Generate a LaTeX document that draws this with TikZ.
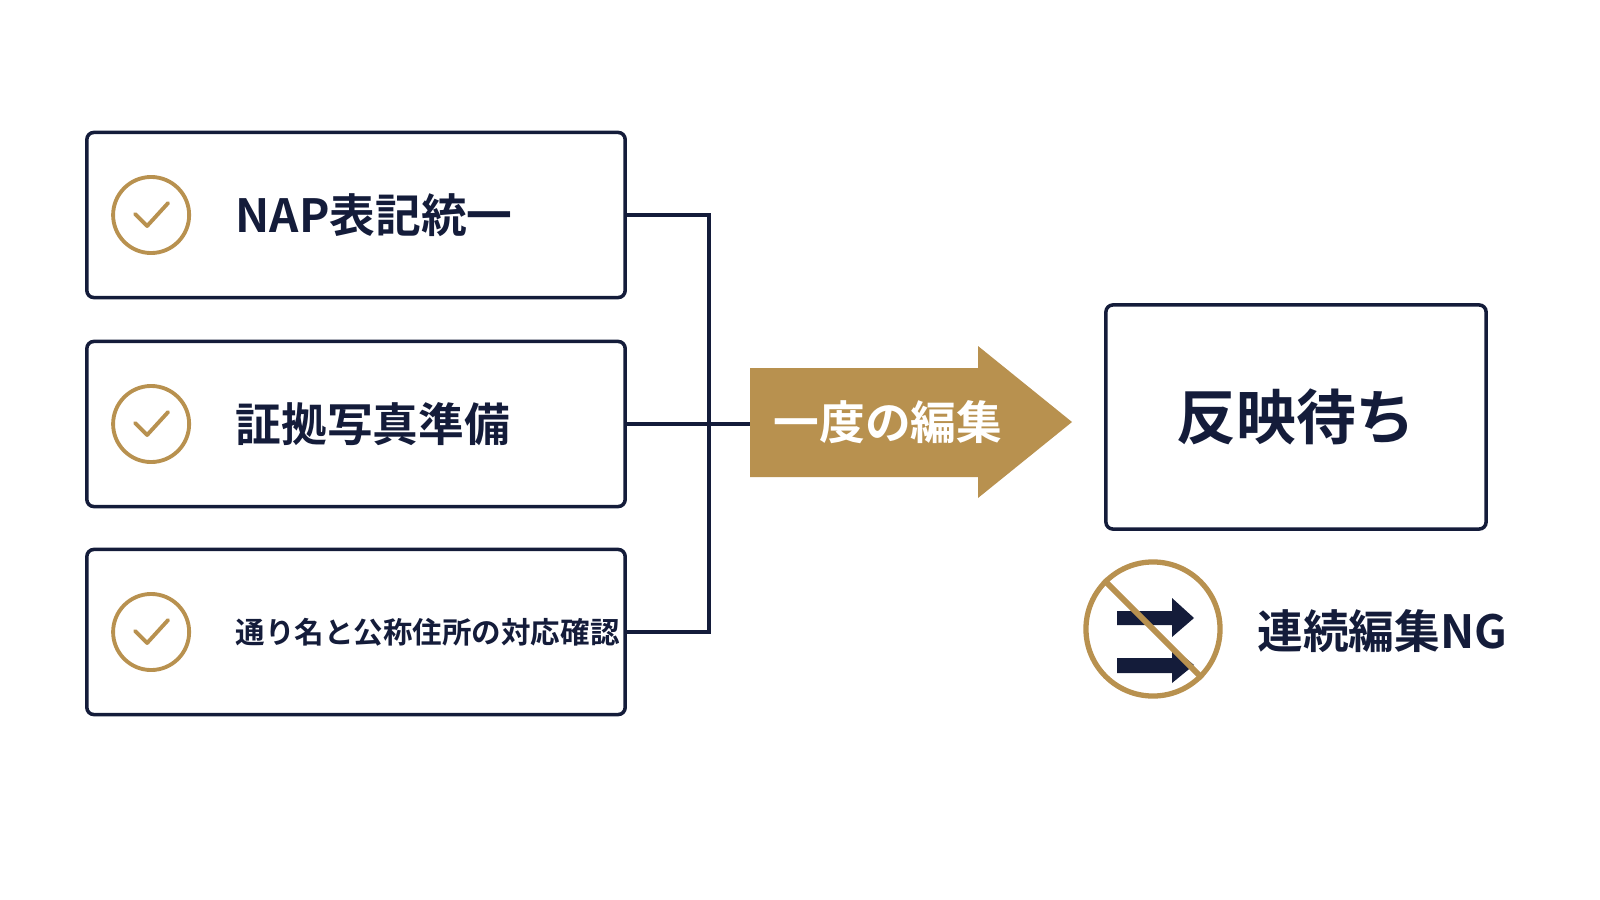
\documentclass[tikz,border=0pt]{standalone}
\usepackage{fontspec}
\newfontfamily\cjk{Noto Sans CJK JP}[BoldFont={Noto Sans CJK JP Bold}]
\definecolor{navy}{HTML}{141C3A}
\definecolor{gold}{HTML}{B8914F}
\tikzset{
  item/.style={draw=navy, line width=1pt, rounded corners=2pt, minimum width=5.38cm, minimum height=1.65cm},
  check/.style={draw=gold, line width=1.1pt, circle, minimum size=0.76cm},
  lbl/.style={text=navy, font=\cjk\bfseries, anchor=west},
  link/.style={draw=navy, line width=1pt}
}
\begin{document}
\begin{tikzpicture}[x=0.01cm, y=-0.01cm]
  \useasboundingbox (0,0) rectangle (1600,900);

  % items on the left
  \node [item] (b1) at (356, 215) {};
  \node [item] (b2) at (356, 424) {};
  \node [item] (b3) at (356, 632) {};
  \foreach \n/\t/\s in {b1/{NAP表記統一}/\fontsize{13}{13}, b2/{証拠写真準備}/\fontsize{13}{13}, b3/{通り名と公称住所の対応確認}/\fontsize{8.4}{9}}{
    \node [check] (c\n) at ([xshift=0.66cm] \n.west) {};
    \draw [gold, line width=1.1pt, line cap=round, line join=round]
      ([xshift=-0.16cm, yshift=0.01cm] c\n.center) -- ([xshift=-0.04cm, yshift=-0.11cm] c\n.center) -- ([xshift=0.17cm, yshift=0.12cm] c\n.center);
    \node [lbl, font=\cjk\bfseries\s\selectfont] (t\n) at ([xshift=1.38cm] \n.west) {\t};
  }

  % connectors
  \coordinate (bus1) at (709, 215);
  \coordinate (bus3) at (709, 632);
  \draw [link] (b1.east) -- (bus1) -- (bus3) -- (b3.east);
  \draw [link] (b2.east) -- (750, 424);

  % big arrow
  \fill [gold] (750,368) -- (978,368) -- (978,346) -- (1072,422) -- (978,498) -- (978,477) -- (750,477) -- cycle;
  \node [text=white, font=\cjk\bfseries\fontsize{13}{13}\selectfont] (edit) at (888, 422) {一度の編集};

  % result
  \node [item, minimum width=3.8cm, minimum height=2.24cm] (wait) at (1296, 417) {};
  \node [text=navy, font=\cjk\bfseries\fontsize{17}{17}\selectfont] (twait) at (wait) {反映待ち};

  % no repeated edits
  \fill [navy] (1117,611) -- (1172,611) -- (1172,598) -- (1194,618) -- (1172,637) -- (1172,625) -- (1117,625) -- cycle;
  \fill [navy] (1117,658) -- (1172,658) -- (1172,647) -- (1194,665) -- (1172,683) -- (1172,673) -- (1117,673) -- cycle;
  \node [draw=gold, line width=1.5pt, circle, minimum size=1.34cm] (ng) at (1153, 629) {};
  \draw [gold, line width=1.7pt] (ng.135) -- (ng.-45);
  \node [lbl, font=\cjk\bfseries\fontsize{13}{13}\selectfont] (tng) at (1245, 631) {連続編集NG};
\end{tikzpicture}
\end{document}
